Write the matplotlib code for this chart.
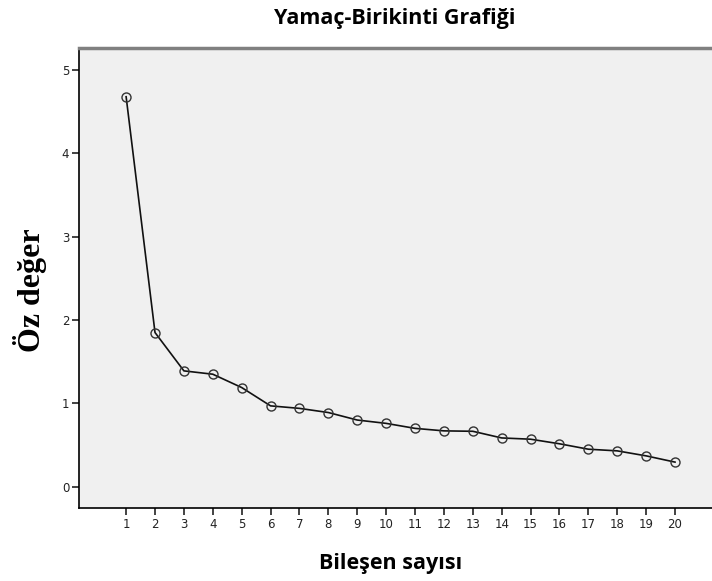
import numpy as np
import matplotlib.pyplot as plt

# bileşen sayısı ve öz değerler
components = list(range(1, 21))
eigenvalues = [4.68, 1.85, 1.39, 1.35, 1.19, 0.97, 0.94, 0.89, 0.80, 0.76,
               0.70, 0.67, 0.665, 0.585, 0.57, 0.515, 0.45, 0.43, 0.37, 0.295]
y_ticks = [0, 1, 2, 3, 4, 5]

fig = plt.figure(figsize=(7.12, 5.81), dpi=100)
ax = fig.add_axes([0.111, 0.1256, 0.889, 0.7918])
ax.set_facecolor('#f0f0f0')

ax.plot(components, eigenvalues, color='#111111', lw=1.2,
        marker='o', ms=6.5, mfc='none', mec='#333333', mew=1.0)

ax.set_xlim(-0.63, 21.28)
ax.set_ylim(-0.256, 5.265)
ax.set_xticks(components)
ax.set_yticks(y_ticks)
ax.tick_params(axis='both', labelsize=8.5, colors='#222222', length=5,
               width=1.2, direction='out')
ax.tick_params(axis='y', pad=2)
ax.tick_params(axis='x', pad=2)

ax.spines['right'].set_visible(False)
ax.spines['top'].set_color('#808080')
ax.spines['top'].set_linewidth(2.5)
ax.spines['left'].set_color('black')
ax.spines['left'].set_linewidth(1.2)
ax.spines['bottom'].set_color('black')
ax.spines['bottom'].set_linewidth(1.2)

fig.text(0.555, 0.968, 'Yamaç-Birikinti Grafiği', ha='center', va='center',
         fontsize=15.5, fontweight='bold', family='Open Sans')
fig.text(0.548, 0.030, 'Bileşen sayısı', ha='center', va='center',
         fontsize=15.5, fontweight='bold', family='Open Sans')
fig.text(0.042, 0.50, 'Öz değer', ha='center', va='center', rotation=90,
         fontsize=23, fontweight='bold', family='Liberation Serif')

fig.savefig('out.png', dpi=100)
